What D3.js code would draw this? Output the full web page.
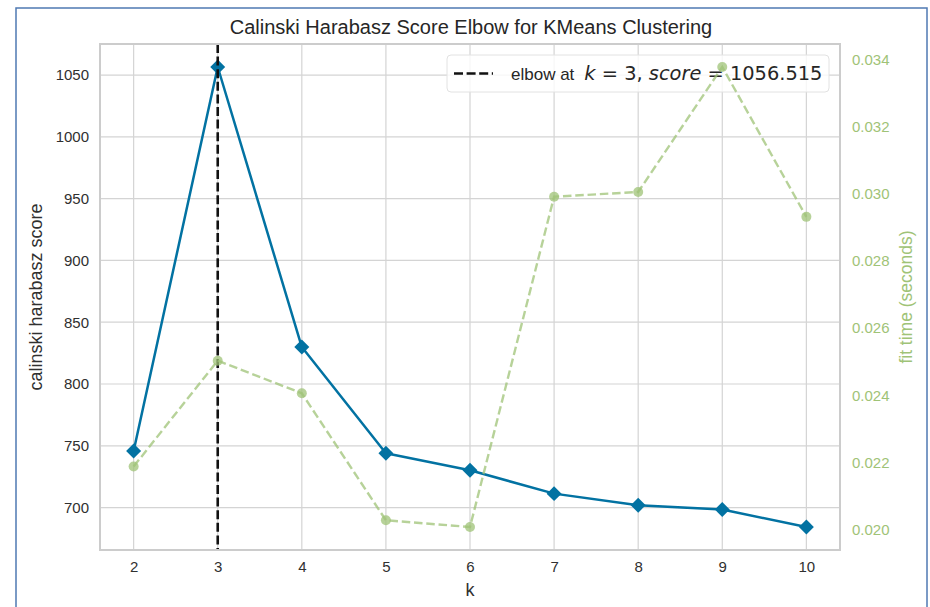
<!DOCTYPE html>
<html>
<head>
<meta charset="utf-8">
<script src="https://cdn.jsdelivr.net/npm/d3@7"></script>
<style>
  html, body { margin: 0; padding: 0; background: #ffffff; }
  svg { display: block; }
  text { font-family: "Liberation Sans", Arial, sans-serif; }
</style>
</head>
<body>
<svg id="chart" width="930" height="607"></svg>
<script>
// Number of clusters tried
const kValues = [2, 3, 4, 5, 6, 7, 8, 9, 10];
// Calinski-Harabasz score for each k
const scores = [745.8, 1056.515, 829.9, 743.9, 730.2, 711.3, 701.9, 698.4, 684.3];
// Time taken to fit each model, seconds
const fitTimes = [0.02188, 0.02503, 0.02406, 0.02028, 0.02008, 0.02991, 0.03005, 0.03377, 0.02931];
// Axis ticks
const scoreTicks = [700, 750, 800, 850, 900, 950, 1000, 1050];
const timeTicks = [0.020, 0.022, 0.024, 0.026, 0.028, 0.030, 0.032, 0.034];
// Elbow detected by the visualizer
const elbowK = 3;
const elbowScore = 1056.515;

const titleText = "Calinski Harabasz Score Elbow for KMeans Clustering";

const BLUE = "#0272a2";
const GREEN = "#9fc377";
const GRID = "#d4d4d4";
const FRAME = "#cccccc";
const INK = "#303030";

const svg = d3.select("#chart");
const plot = { left: 100, right: 840, top: 44, bottom: 550 };

// matplotlib-style 5% data margins
function padded(values) {
  const [lo, hi] = d3.extent(values);
  const p = (hi - lo) * 0.05;
  return [lo - p, hi + p];
}

const x = d3.scaleLinear().domain(padded(kValues)).range([plot.left, plot.right]);
const yScore = d3.scaleLinear().domain(padded(scores)).range([plot.bottom, plot.top]);
const yTime = d3.scaleLinear().domain(padded(fitTimes)).range([plot.bottom, plot.top]);

// outer panel border
svg.append("rect")
  .attr("x", 16).attr("y", 8)
  .attr("width", 911).attr("height", 640)
  .attr("fill", "none")
  .attr("stroke", "#4f79b3")
  .attr("stroke-width", 1.5);

// grid lines
const grid = svg.append("g");
grid.selectAll("line.v").data(kValues).join("line")
  .attr("x1", d => x(d)).attr("x2", d => x(d))
  .attr("y1", plot.top).attr("y2", plot.bottom)
  .attr("stroke", GRID).attr("stroke-width", 1.2);
grid.selectAll("line.h").data(scoreTicks).join("line")
  .attr("x1", plot.left).attr("x2", plot.right)
  .attr("y1", d => yScore(d)).attr("y2", d => yScore(d))
  .attr("stroke", GRID).attr("stroke-width", 1.2);

// score line with diamond markers
svg.append("path")
  .datum(kValues.map((k, i) => [k, scores[i]]))
  .attr("fill", "none")
  .attr("stroke", BLUE)
  .attr("stroke-width", 2.5)
  .attr("stroke-linejoin", "round")
  .attr("d", d3.line().x(d => x(d[0])).y(d => yScore(d[1])));

const diamond = d3.symbol(d3.symbolSquare, 112)();
svg.append("g").selectAll("path").data(kValues).join("path")
  .attr("d", diamond)
  .attr("transform", (k, i) => `translate(${x(k)},${yScore(scores[i])}) rotate(45)`)
  .attr("fill", BLUE);

// elbow marker line
svg.append("line")
  .attr("x1", x(elbowK)).attr("x2", x(elbowK))
  .attr("y1", plot.top).attr("y2", plot.bottom)
  .attr("stroke", "#111111")
  .attr("stroke-width", 2.6)
  .attr("stroke-dasharray", "9,3.6");

// legend
const lg = svg.append("g");
lg.append("rect")
  .attr("x", 447).attr("y", 55)
  .attr("width", 382).attr("height", 37)
  .attr("rx", 4).attr("ry", 4)
  .attr("fill", "#ffffff").attr("fill-opacity", 0.8)
  .attr("stroke", "#e2e2e2").attr("stroke-width", 1);
lg.append("line")
  .attr("x1", 454).attr("x2", 493)
  .attr("y1", 73.5).attr("y2", 73.5)
  .attr("stroke", "#111111")
  .attr("stroke-width", 2.6)
  .attr("stroke-dasharray", "9,3.6");
const lt = lg.append("text")
  .attr("x", 511).attr("y", 80)
  .attr("fill", "#262626");
lt.append("tspan").attr("font-size", 17).text("elbow at");
const mathFont = "'DejaVu Sans', sans-serif";
const mathSize = 19.4;
function mathSpan(txt, italic) {
  const s = lt.append("tspan")
    .attr("font-family", mathFont)
    .attr("font-size", mathSize)
    .text(txt);
  if (italic) s.attr("font-style", "italic");
  return s;
}
mathSpan("k", true).attr("dx", 10);
mathSpan(" = " + elbowK + ", ", false);
mathSpan("score", true);
mathSpan(" = " + elbowScore.toFixed(3), false);

// fit time line (secondary axis), drawn above the legend
svg.append("path")
  .datum(kValues.map((k, i) => [k, fitTimes[i]]))
  .attr("fill", "none")
  .attr("stroke", GREEN)
  .attr("stroke-opacity", 0.75)
  .attr("stroke-width", 2.4)
  .attr("stroke-dasharray", "8.5,3.8")
  .attr("d", d3.line().x(d => x(d[0])).y(d => yTime(d[1])));
svg.append("g").selectAll("circle").data(kValues).join("circle")
  .attr("cx", k => x(k))
  .attr("cy", (k, i) => yTime(fitTimes[i]))
  .attr("r", 5)
  .attr("fill", GREEN)
  .attr("fill-opacity", 0.75);

// plot frame
svg.append("rect")
  .attr("x", plot.left).attr("y", plot.top)
  .attr("width", plot.right - plot.left).attr("height", plot.bottom - plot.top)
  .attr("fill", "none")
  .attr("stroke", FRAME)
  .attr("stroke-width", 2);

// axes via d3 axis generators, styled without domain/tick lines
function styleAxis(g, color) {
  g.select(".domain").remove();
  g.selectAll(".tick line").remove();
  g.selectAll(".tick text")
    .attr("font-family", "'Liberation Sans', Arial, sans-serif")
    .attr("font-size", 15)
    .attr("fill", color);
}

svg.append("g")
  .attr("transform", `translate(0,${plot.bottom})`)
  .call(d3.axisBottom(x).tickValues(kValues).tickFormat(d3.format("d")).tickSize(0).tickPadding(11))
  .call(g => styleAxis(g, INK));

svg.append("g")
  .attr("transform", `translate(${plot.left},0)`)
  .call(d3.axisLeft(yScore).tickValues(scoreTicks).tickFormat(d3.format("d")).tickSize(0).tickPadding(11))
  .call(g => styleAxis(g, INK));

svg.append("g")
  .attr("transform", `translate(${plot.right},0)`)
  .call(d3.axisRight(yTime).tickValues(timeTicks).tickFormat(d3.format(".3f")).tickSize(0).tickPadding(12))
  .call(g => styleAxis(g, GREEN));

// title and axis labels
svg.append("text")
  .attr("x", (plot.left + plot.right) / 2 + 1).attr("y", 27)
  .attr("text-anchor", "middle").attr("dominant-baseline", "central")
  .attr("font-size", 20).attr("fill", "#262626")
  .text(titleText);

svg.append("text")
  .attr("x", 470).attr("y", 590)
  .attr("text-anchor", "middle").attr("dominant-baseline", "central")
  .attr("font-size", 18).attr("fill", INK)
  .text("k");

svg.append("text")
  .attr("transform", `translate(36,${(plot.top + plot.bottom) / 2}) rotate(-90)`)
  .attr("text-anchor", "middle").attr("dominant-baseline", "central")
  .attr("font-size", 18).attr("fill", INK)
  .text("calinski harabasz score");

svg.append("text")
  .attr("transform", `translate(906,${(plot.top + plot.bottom) / 2}) rotate(-90)`)
  .attr("text-anchor", "middle").attr("dominant-baseline", "central")
  .attr("font-size", 17.5).attr("fill", GREEN)
  .text("fit time (seconds)");
</script>
</body>
</html>
